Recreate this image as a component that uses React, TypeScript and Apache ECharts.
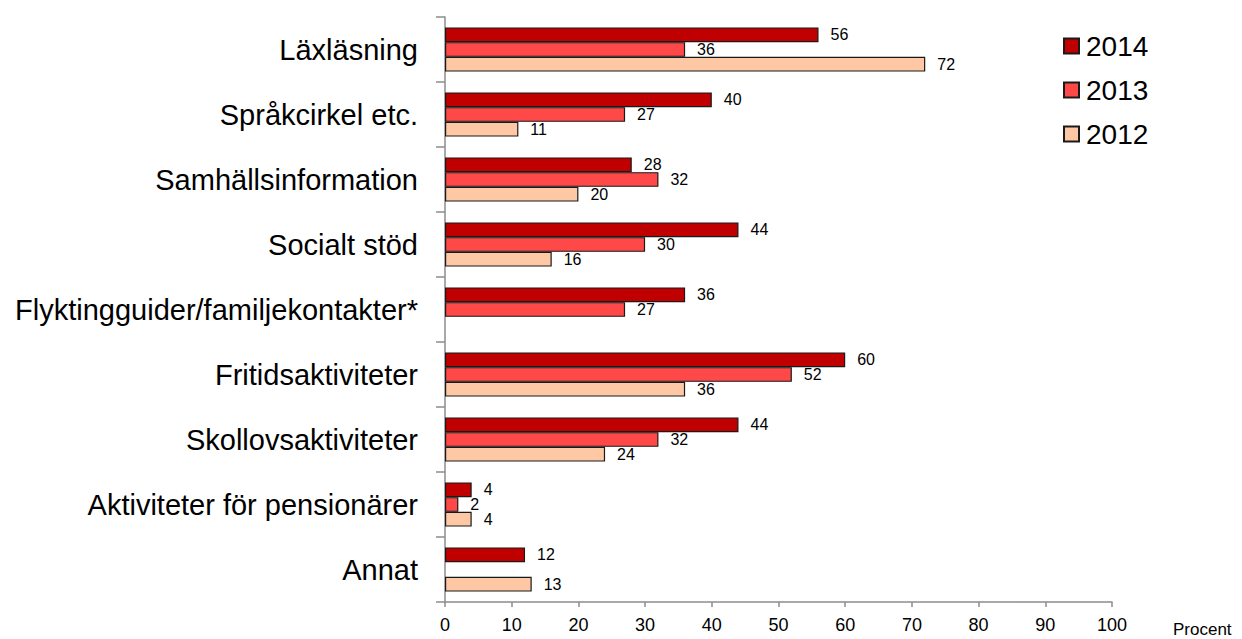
import React, { useEffect, useRef } from "react";
import * as echarts from "echarts";

const categories = [
  "Läxläsning",
  "Språkcirkel etc.",
  "Samhällsinformation",
  "Socialt stöd",
  "Flyktingguider/familjekontakter*",
  "Fritidsaktiviteter",
  "Skollovsaktiviteter",
  "Aktiviteter för pensionärer",
  "Annat",
];
const values2014 = [56, 40, 28, 44, 36, 60, 44, 4, 12];
const values2013 = [36, 27, 32, 30, 27, 52, 32, 2, null];
const values2012 = [72, 11, 20, 16, null, 36, 24, 4, 13];
const seriesNames = ["2014", "2013", "2012"];
const colors = ["#C00000", "#FF4848", "#FFC8A5"];

const FONT = "Liberation Sans, Arial, sans-serif";

export default function App() {
  const ref = useRef<HTMLDivElement>(null);
  useEffect(() => {
    const chart = echarts.init(ref.current!, null, { renderer: "svg" });
    const data = [values2014, values2013, values2012];
    chart.setOption({
      animation: false,
      backgroundColor: "#ffffff",
      textStyle: { fontFamily: FONT },
      grid: { left: 445, right: 130, top: 17, bottom: 37, containLabel: false },
      legend: {
        orient: "vertical",
        left: 1063,
        top: 32,
        padding: 0,
        itemWidth: 15,
        itemHeight: 15,
        itemGap: 16,
        icon: "rect",
        data: seriesNames,
        textStyle: {
          fontSize: 28,
          lineHeight: 28,
          color: "#000",
          fontFamily: FONT,
          padding: [0, 0, 0, 2],
        },
      },
      xAxis: {
        type: "value",
        min: 0,
        max: 100,
        interval: 10,
        axisLine: { show: true, lineStyle: { color: "#8c8c8c", width: 1.5 } },
        axisTick: { show: true, length: 5, lineStyle: { color: "#8c8c8c", width: 1.5 } },
        splitLine: { show: false },
        axisLabel: { color: "#000", fontSize: 18, margin: 14, fontFamily: FONT },
      },
      yAxis: {
        type: "category",
        data: categories,
        inverse: true,
        axisLine: { show: true, lineStyle: { color: "#8c8c8c", width: 1.5 } },
        axisTick: { show: true, length: 9, lineStyle: { color: "#8c8c8c", width: 1.5 } },
        axisLabel: { color: "#000", fontSize: 29, margin: 27, fontFamily: FONT },
      },
      series: seriesNames.map((name, i) => ({
        name,
        type: "bar",
        data: data[i],
        barGap: "0%",
        barCategoryGap: "32%",
        itemStyle: { color: colors[i], borderColor: "#1a1a1a", borderWidth: 1.2 },
        label: {
          show: true,
          position: "right",
          distance: 12,
          color: "#000",
          fontSize: 16,
          fontFamily: FONT,
        },
      })),
      graphic: [
        {
          type: "text",
          x: 1173,
          y: 629,
          style: {
            text: "Procent",
            fontSize: 17,
            fill: "#000",
            fontFamily: FONT,
            textVerticalAlign: "middle",
          },
        },
      ],
    });
    return () => chart.dispose();
  }, []);
  return (
    <div
      ref={ref}
      style={{ position: "fixed", left: 0, top: 0, width: 1242, height: 639 }}
    />
  );
}
